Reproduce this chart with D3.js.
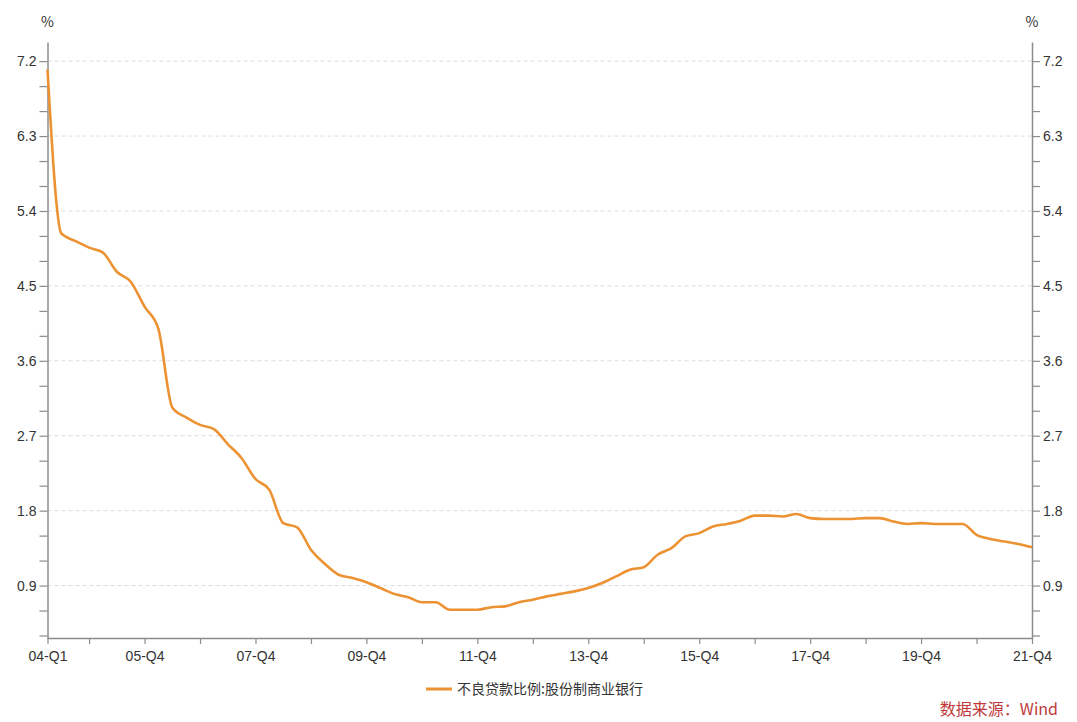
<!DOCTYPE html>
<html><head><meta charset="utf-8">
<script src="https://cdn.jsdelivr.net/npm/d3@7/dist/d3.min.js"></script>
<style>
body{margin:0;background:#fff;}
svg{display:block;font-family:"Noto Sans CJK SC","Noto Sans",sans-serif;}
</style></head>
<body><svg id="c" width="1077" height="722"></svg>
<script>
// quarters 04-Q1 .. 21-Q4
const years = d3.range(2004, 2022);
const quarters = [];
years.forEach(y => [1,2,3,4].forEach(q => quarters.push(String(y%100).padStart(2,"0") + "-Q" + q)));
const nplRatio = [
  7.10, 5.13, 5.04, 4.96, 4.90, 4.67, 4.55, 4.25, 3.98, 3.04, 2.92, 2.83,
  2.78, 2.60, 2.43, 2.18, 2.05, 1.65, 1.60, 1.33, 1.16, 1.03, 0.99, 0.94,
  0.87, 0.80, 0.76, 0.70, 0.70, 0.61, 0.61, 0.61, 0.64, 0.65, 0.70, 0.73,
  0.77, 0.80, 0.83, 0.87, 0.93, 1.01, 1.09, 1.12, 1.27, 1.35, 1.49, 1.53,
  1.61, 1.64, 1.68, 1.74, 1.74, 1.73, 1.76, 1.71, 1.70, 1.70, 1.70, 1.71,
  1.71, 1.67, 1.64, 1.65, 1.64, 1.64, 1.64, 1.51, 1.46, 1.43, 1.40, 1.36
];
const xLabels = ["04-Q1","05-Q4","07-Q4","09-Q4","11-Q4","13-Q4","15-Q4","17-Q4","19-Q4","21-Q4"];
const xMinorTicks = quarters.filter((q,i) => i === 0 || q.endsWith("Q4"));
const yLabelTicks = [0.9, 1.8, 2.7, 3.6, 4.5, 5.4, 6.3, 7.2];
const yMinorTicks = d3.range(1, 25).map(k => +(k*0.3).toFixed(1));
const seriesName = "不良贷款比例:股份制商业银行";
const sourceText = "数据来源：Wind";

const svg = d3.select("#c");
const L = 47.5, R = 1032, T = 42, B = 638;
const x = d3.scalePoint().domain(quarters).range([L, R]);
const y = d3.scaleLinear().domain([0.27, 7.43]).range([B, T]);
const axisColor = "#8c8c8c", textColor = "#333";
const orange = "#ec9232";

// grid
svg.append("g").selectAll("line").data(yLabelTicks).join("line")
  .attr("x1", L).attr("x2", R).attr("y1", d => y(d)).attr("y2", d => y(d))
  .attr("stroke", "#dcdcdc").attr("stroke-dasharray", "4,3").attr("stroke-width", 1);

function styleAxis(g){
  g.select(".domain").attr("stroke", axisColor).attr("stroke-width", 1.5);
  g.selectAll(".tick line").attr("stroke", axisColor).attr("stroke-width", 1.2);
  g.selectAll(".tick text").attr("fill", textColor).style("font-size", "14px");
}
const yFmt = d => yLabelTicks.some(v => Math.abs(v - d) < 1e-6) ? d.toFixed(1) : "";

const gl = svg.append("g").attr("transform", `translate(${L},0)`)
  .call(d3.axisLeft(y).tickValues(yMinorTicks).tickFormat(yFmt).tickSize(8).tickSizeOuter(0).tickPadding(3));
styleAxis(gl);
const gr = svg.append("g").attr("transform", `translate(${R},0)`)
  .call(d3.axisRight(y).tickValues(yMinorTicks).tickFormat(yFmt).tickSize(8).tickSizeOuter(0).tickPadding(3));
styleAxis(gr);
const gx = svg.append("g").attr("transform", `translate(0,${B})`)
  .call(d3.axisBottom(x).tickValues(xMinorTicks).tickFormat(d => xLabels.includes(d) ? d : "").tickSize(6).tickSizeOuter(0).tickPadding(7));
styleAxis(gx);
gx.selectAll(".tick text").style("font-size", "14px");

// % labels
svg.append("text").attr("x", L).attr("y", 27).attr("text-anchor", "middle").attr("fill", textColor).style("font-size", "14px").text("%");
svg.append("text").attr("x", R).attr("y", 27).attr("text-anchor", "middle").attr("fill", textColor).style("font-size", "14px").text("%");

// line
const line = d3.line().x((d,i) => x(quarters[i])).y(d => y(d)).curve(d3.curveMonotoneX);
svg.append("path").datum(nplRatio).attr("d", line).attr("fill", "none")
  .attr("stroke", orange).attr("stroke-width", 2.6).attr("stroke-linejoin", "round");

// legend
svg.append("line").attr("x1", 426).attr("x2", 452).attr("y1", 689).attr("y2", 689)
  .attr("stroke", orange).attr("stroke-width", 3);
svg.append("text").attr("x", 457).attr("y", 694).attr("fill", textColor).style("font-size", "14px").text(seriesName);

// source
svg.append("text").attr("x", 1058).attr("y", 715).attr("text-anchor", "end").attr("fill", "#c0393b").style("font-size", "16px").text(sourceText);
</script></body></html>
